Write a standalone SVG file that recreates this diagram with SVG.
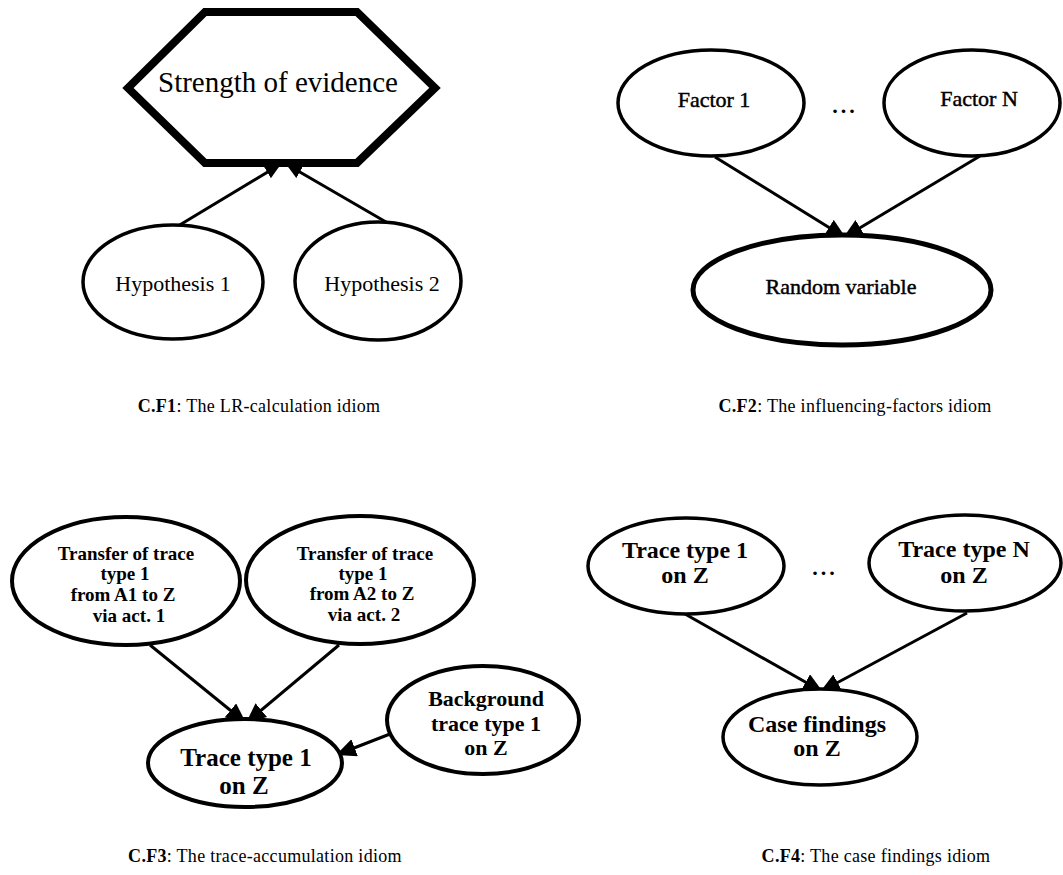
<svg xmlns="http://www.w3.org/2000/svg" width="1063" height="875" viewBox="0 0 1063 875">
  <style>
    text { font-family: "Liberation Serif", "Times New Roman", serif; fill: #000; }
    .n { fill: #fff; stroke: #000; }
    .b { font-weight: bold; }
    .m { stroke: #000; stroke-width: 0.45; }
    .edge { stroke: #000; stroke-width: 3; fill: none; }
    .cap { font-size: 18px; letter-spacing: 0.3px; }
  </style>
  <defs>
    <marker id="ah" markerUnits="userSpaceOnUse" markerWidth="22" markerHeight="20" refX="20" refY="9" orient="auto">
      <path d="M0,0 L20,9 L0,18 z" fill="#000"/>
    </marker>
    <marker id="ahs" markerUnits="userSpaceOnUse" markerWidth="18" markerHeight="16" refX="16" refY="7" orient="auto">
      <path d="M0,0 L16,7 L0,14 z" fill="#000"/>
    </marker>
  </defs>
  <rect width="1063" height="875" fill="#fff"/>

  <!-- connectors, drawn first so node fills cover the arrow tips -->
  <g id="connectors">
    <line class="edge" x1="178" y1="226" x2="281" y2="164" marker-end="url(#ahs)"/>
    <line class="edge" x1="386" y1="222" x2="286" y2="164" marker-end="url(#ahs)"/>
    <line class="edge" x1="715" y1="157" x2="846" y2="238" marker-end="url(#ah)"/>
    <line class="edge" x1="980" y1="156" x2="843" y2="238" marker-end="url(#ah)"/>
    <line class="edge" x1="150" y1="645" x2="246" y2="723" marker-end="url(#ah)"/>
    <line class="edge" x1="339" y1="645" x2="246" y2="723" marker-end="url(#ah)"/>
    <line class="edge" x1="390" y1="734" x2="336" y2="755" marker-end="url(#ah)"/>
    <line class="edge" x1="685" y1="614" x2="823" y2="692" marker-end="url(#ah)"/>
    <line class="edge" x1="967" y1="613" x2="820" y2="692" marker-end="url(#ah)"/>
  </g>

  <!-- C.F1 -->
  <g id="strength">
    <polygon class="n" stroke-width="8" points="205,12 357,12 435,88 357,163 205,163 128,88"/>
    <text x="278" y="92" font-size="29" text-anchor="middle">Strength of evidence</text>
  </g>
  <g id="hyp1">
    <ellipse class="n" stroke-width="3.5" cx="173" cy="282" rx="90" ry="57"/>
    <text x="173" y="291" font-size="22" text-anchor="middle">Hypothesis 1</text>
  </g>
  <g id="hyp2">
    <ellipse class="n" stroke-width="3.5" cx="378" cy="281" rx="83" ry="59"/>
    <text x="382" y="291" font-size="22" text-anchor="middle">Hypothesis 2</text>
  </g>
  <text class="cap" x="259" y="412" text-anchor="middle"><tspan class="b">C.F1</tspan>: The LR-calculation idiom</text>

  <!-- C.F2 -->
  <g id="factor1">
    <ellipse class="n" stroke-width="3.5" cx="711" cy="103" rx="93" ry="53"/>
    <text class="m" x="714" y="107" font-size="22" text-anchor="middle">Factor 1</text>
  </g>
  <text class="b" x="845" y="113" font-size="22" text-anchor="middle" letter-spacing="3">...</text>
  <g id="factorN">
    <ellipse class="n" stroke-width="3.5" cx="972" cy="103" rx="88" ry="53"/>
    <text class="m" x="979" y="106" font-size="22" text-anchor="middle">Factor N</text>
  </g>
  <g id="randomvar">
    <ellipse class="n" stroke-width="5" cx="842" cy="290" rx="149" ry="55"/>
    <text class="m" x="841" y="294" font-size="22" text-anchor="middle">Random variable</text>
  </g>
  <text class="cap" x="855" y="412" text-anchor="middle"><tspan class="b">C.F2</tspan>: The influencing-factors idiom</text>

  <!-- C.F3 -->
  <g id="transfer1">
    <ellipse class="n" stroke-width="4" cx="126" cy="581" rx="114" ry="64"/>
    <text class="b" x="126" y="560" font-size="19" text-anchor="middle">Transfer of trace</text>
    <text class="b" x="125" y="580" font-size="19" text-anchor="middle">type 1</text>
    <text class="b" x="123" y="601" font-size="19" text-anchor="middle">from A1 to Z</text>
    <text class="b" x="129" y="622" font-size="19" text-anchor="middle">via act. 1</text>
  </g>
  <g id="transfer2">
    <ellipse class="n" stroke-width="4" cx="360" cy="580" rx="114" ry="64"/>
    <text class="b" x="365" y="560" font-size="19" text-anchor="middle">Transfer of trace</text>
    <text class="b" x="363" y="580" font-size="19" text-anchor="middle">type 1</text>
    <text class="b" x="362" y="600" font-size="19" text-anchor="middle">from A2 to Z</text>
    <text class="b" x="364" y="621" font-size="19" text-anchor="middle">via act. 2</text>
  </g>
  <g id="tracez">
    <ellipse class="n" stroke-width="4" cx="245" cy="763" rx="97" ry="44"/>
    <text class="b" x="246" y="766" font-size="25" text-anchor="middle">Trace type 1</text>
    <text class="b" x="244" y="794" font-size="25" text-anchor="middle">on Z</text>
  </g>
  <g id="background">
    <ellipse class="n" stroke-width="4" cx="483" cy="720" rx="96" ry="54"/>
    <text class="b" x="486" y="706" font-size="22" text-anchor="middle">Background</text>
    <text class="b" x="486" y="731" font-size="22" text-anchor="middle">trace type 1</text>
    <text class="b" x="486" y="755" font-size="22" text-anchor="middle">on Z</text>
  </g>
  <text class="cap" x="265" y="862" text-anchor="middle"><tspan class="b">C.F3</tspan>: The trace-accumulation idiom</text>

  <!-- C.F4 -->
  <g id="trace1z">
    <ellipse class="n" stroke-width="3.5" cx="686" cy="566" rx="98" ry="48"/>
    <text class="b" x="685" y="558" font-size="24" text-anchor="middle">Trace type 1</text>
    <text class="b" x="685" y="583" font-size="24" text-anchor="middle">on Z</text>
  </g>
  <text class="b" x="825" y="575" font-size="22" text-anchor="middle" letter-spacing="3">...</text>
  <g id="traceNz">
    <ellipse class="n" stroke-width="3.5" cx="965" cy="563" rx="96" ry="48"/>
    <text class="b" x="964" y="557" font-size="24" text-anchor="middle">Trace type N</text>
    <text class="b" x="964" y="583" font-size="24" text-anchor="middle">on Z</text>
  </g>
  <g id="casefindings">
    <ellipse class="n" stroke-width="3.5" cx="820" cy="737" rx="97" ry="48"/>
    <text class="b" x="817" y="732" font-size="24" text-anchor="middle">Case findings</text>
    <text class="b" x="817" y="756" font-size="24" text-anchor="middle">on Z</text>
  </g>
  <text class="cap" x="876" y="862" text-anchor="middle"><tspan class="b">C.F4</tspan>: The case findings idiom</text>
</svg>
